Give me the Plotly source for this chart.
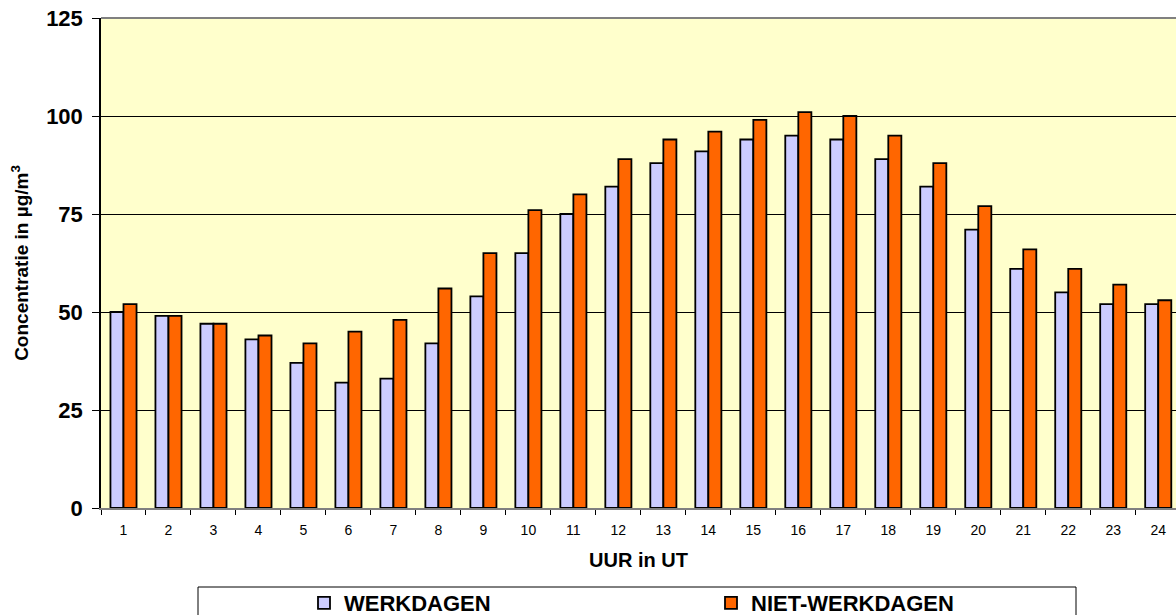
import plotly.graph_objects as go

hours = [str(h) for h in range(1, 25)]
werkdagen = [50, 49, 47, 43, 37, 32, 33, 42, 54, 65, 75, 82, 88, 91, 94, 95, 94, 89, 82, 71, 61, 55, 52, 52]
niet_werkdagen = [52, 49, 47, 44, 42, 45, 48, 56, 65, 76, 80, 89, 94, 96, 99, 101, 100, 95, 88, 77, 66, 61, 57, 53]
y_ticks = [0, 25, 50, 75, 100, 125]

FONT = "Arial, Liberation Sans, sans-serif"

W, H = 1176, 615
L, T, B = 101, 18, 508  # plot area pixel edges


def px2x(p):
    return (p - L) / (W - L)


def px2y(p):
    return (B - p) / (B - T)


fig = go.Figure()
fig.add_trace(go.Bar(x=hours, y=werkdagen, name="WERKDAGEN",
                     marker=dict(color="#CCCCFF", line=dict(color="#000000", width=1.8))))
fig.add_trace(go.Bar(x=hours, y=niet_werkdagen, name="NIET-WERKDAGEN",
                     marker=dict(color="#FF6600", line=dict(color="#000000", width=1.8))))

fig.update_layout(
    template="none",
    width=W, height=H,
    margin=dict(l=L, r=0, t=T, b=H - B, pad=0, autoexpand=False),
    paper_bgcolor="#FFFFFF",
    plot_bgcolor="#FFFFCC",
    barmode="group",
    bargap=0.42,
    bargroupgap=0,
    font=dict(family=FONT, color="#000000"),
    showlegend=True,
    legend=dict(
        orientation="h",
        x=px2x(304), xanchor="left",
        y=px2y(582), yanchor="top",
        bgcolor="rgba(0,0,0,0)",
        borderwidth=0,
        entrywidth=362, entrywidthmode="pixels",
        font=dict(family=FONT, size=22, weight="bold", color="#000000"),
        traceorder="normal",
    ),
    xaxis=dict(
        type="category",
        automargin=False,
        range=[-0.5, 23.395],
        tickson="boundaries",
        ticks="outside", ticklen=5, tickwidth=1, tickcolor="#000000",
        showline=True, linecolor="#808080", linewidth=2,
        showgrid=False,
        tickfont=dict(family=FONT, size=14, color="#000000"),
        ticklabelstandoff=8,
        title=dict(text="UUR in UT", font=dict(family=FONT, size=20, weight="bold"), standoff=16),
        fixedrange=True,
    ),
    yaxis=dict(
        automargin=False,
        range=[0, 125],
        tickvals=y_ticks,
        ticks="outside", ticklen=7, tickwidth=1, tickcolor="#000000",
        showline=True, linecolor="#000000", linewidth=1.5,
        showgrid=True, gridcolor="#000000", gridwidth=1,
        zeroline=False,
        tickfont=dict(family=FONT, size=22, weight="bold", color="#000000"),
        ticklabelstandoff=5,
        title=dict(text="Concentratie in µg/m<sup>3</sup>", font=dict(family=FONT, size=19, weight="bold"), standoff=12),
        fixedrange=True,
    ),
    shapes=[
        dict(type="line", xref="paper", yref="paper", x0=0, x1=1, y0=1, y1=1,
             line=dict(color="#808080", width=2)),
        dict(type="rect", xref="paper", yref="paper",
             x0=px2x(198), x1=px2x(1076), y0=px2y(587), y1=px2y(630),
             line=dict(color="#000000", width=1), fillcolor="rgba(0,0,0,0)", layer="below"),
    ],
)

fig.write_html("out.html", config={"displayModeBar": False},
               post_script="document.body.style.margin='0';")
